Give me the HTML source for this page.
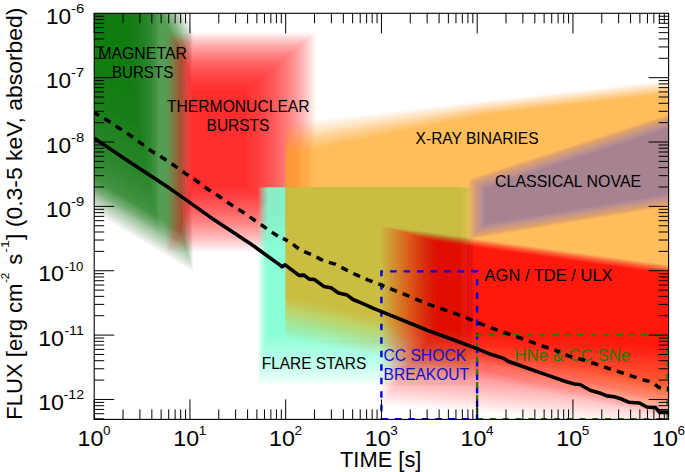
<!DOCTYPE html>
<html><head><meta charset="utf-8"><style>html,body{margin:0;padding:0;background:#fff;overflow:hidden}svg{display:block}</style></head>
<body><svg width="685" height="472" viewBox="0 0 685 472" font-family="Liberation Sans, sans-serif">
<defs><filter id="bl" x="-10%" y="-10%" width="120%" height="120%"><feGaussianBlur stdDeviation="0.6"/></filter><clipPath id="c"><rect x="94.2" y="13.3" width="574.4" height="406.09999999999997"/></clipPath></defs>
<rect width="685" height="472" fill="#fff"/>
<g clip-path="url(#c)"><g filter="url(#bl)"><g fill="#007800"><polygon points="40.0,-40.0 160.0,-40.0 193.0,30.0 193.0,272.1 40.0,180.0" fill-opacity="0.0194"/><polygon points="40.0,-40.0 159.5,-40.0 192.7,30.6 192.7,271.2 40.0,179.2" fill-opacity="0.0198"/><polygon points="40.0,-40.0 158.9,-40.0 192.5,31.2 192.5,270.2 40.0,178.5" fill-opacity="0.0202"/><polygon points="40.0,-40.0 158.4,-40.0 192.2,31.7 192.2,269.3 40.0,177.7" fill-opacity="0.0206"/><polygon points="40.0,-40.0 157.8,-40.0 191.9,32.3 191.9,268.3 40.0,176.9" fill-opacity="0.0211"/><polygon points="40.0,-40.0 157.3,-40.0 191.7,32.9 191.7,267.4 40.0,176.1" fill-opacity="0.0215"/><polygon points="40.0,-40.0 156.7,-40.0 191.4,33.5 191.4,266.4 40.0,175.2" fill-opacity="0.0220"/><polygon points="40.0,-40.0 156.1,-40.0 191.1,34.2 191.1,265.4 40.0,174.4" fill-opacity="0.0225"/><polygon points="40.0,-40.0 155.5,-40.0 190.8,34.8 190.8,264.4 40.0,173.6" fill-opacity="0.0230"/><polygon points="40.0,-40.0 155.0,-40.0 190.5,35.4 190.5,263.4 40.0,172.7" fill-opacity="0.0236"/><polygon points="40.0,-40.0 154.4,-40.0 190.2,36.1 190.2,262.3 40.0,171.9" fill-opacity="0.0241"/><polygon points="40.0,-40.0 153.8,-40.0 189.9,36.7 189.9,261.3 40.0,171.0" fill-opacity="0.0247"/><polygon points="40.0,-40.0 153.2,-40.0 189.6,37.3 189.6,260.2 40.0,170.2" fill-opacity="0.0254"/><polygon points="40.0,-40.0 152.5,-40.0 189.3,38.0 189.3,259.2 40.0,169.3" fill-opacity="0.0260"/><polygon points="40.0,-40.0 151.9,-40.0 189.0,38.7 189.0,258.1 40.0,168.4" fill-opacity="0.0267"/><polygon points="40.0,-40.0 151.3,-40.0 188.7,39.4 188.7,257.0 40.0,167.5" fill-opacity="0.0275"/><polygon points="40.0,-40.0 150.6,-40.0 188.4,40.0 188.4,255.9 40.0,166.5" fill-opacity="0.0282"/><polygon points="40.0,-40.0 150.0,-40.0 188.1,40.7 188.1,254.7 40.0,165.6" fill-opacity="0.0290"/><polygon points="40.0,-40.0 149.3,-40.0 187.7,41.5 187.7,253.6 40.0,164.7" fill-opacity="0.0299"/><polygon points="40.0,-40.0 148.7,-40.0 187.4,42.2 187.4,252.4 40.0,163.7" fill-opacity="0.0308"/><polygon points="40.0,-40.0 148.0,-40.0 187.1,42.9 187.1,251.3 40.0,162.7" fill-opacity="0.0318"/><polygon points="40.0,-40.0 147.3,-40.0 186.7,43.6 186.7,250.1 40.0,161.7" fill-opacity="0.0329"/><polygon points="40.0,-40.0 146.6,-40.0 186.4,44.4 186.4,248.9 40.0,160.7" fill-opacity="0.0340"/><polygon points="40.0,-40.0 145.9,-40.0 186.1,45.1 186.1,247.6 40.0,159.7" fill-opacity="0.0352"/><polygon points="40.0,-40.0 145.2,-40.0 185.7,45.9 185.7,246.4 40.0,158.7" fill-opacity="0.0365"/><polygon points="40.0,-40.0 144.5,-40.0 185.3,46.7 185.3,245.1 40.0,157.6" fill-opacity="0.0378"/><polygon points="40.0,-40.0 143.7,-40.0 185.0,47.5 185.0,243.9 40.0,156.6" fill-opacity="0.0393"/><polygon points="40.0,-40.0 143.0,-40.0 184.6,48.3 184.6,242.6 40.0,155.5" fill-opacity="0.0409"/><polygon points="40.0,-40.0 142.2,-40.0 184.2,49.1 184.2,241.2 40.0,154.4" fill-opacity="0.0427"/><polygon points="40.0,-40.0 141.5,-40.0 183.9,49.9 183.9,239.9 40.0,153.3" fill-opacity="0.0446"/><polygon points="40.0,-40.0 140.7,-40.0 183.5,50.8 183.5,238.5 40.0,152.2" fill-opacity="0.0467"/><polygon points="40.0,-40.0 139.9,-40.0 183.1,51.6 183.1,237.1 40.0,151.0" fill-opacity="0.0490"/><polygon points="40.0,-40.0 139.1,-40.0 182.7,52.5 182.7,235.7 40.0,149.9" fill-opacity="0.0515"/><polygon points="40.0,-40.0 138.2,-40.0 182.3,53.4 182.3,234.3 40.0,148.7" fill-opacity="0.0543"/><polygon points="40.0,-40.0 137.4,-40.0 181.8,54.3 181.8,232.9 40.0,147.5" fill-opacity="0.0574"/><polygon points="40.0,-40.0 136.5,-40.0 181.4,55.2 181.4,231.4 40.0,146.2" fill-opacity="0.0609"/></g><g fill="#007800"><polygon points="40.0,-40.0 160.0,-40.0 160.0,234.3 40.0,165.7" fill-opacity="0.0242"/><polygon points="40.0,-40.0 159.6,-40.0 159.6,232.5 40.0,164.1" fill-opacity="0.0248"/><polygon points="40.0,-40.0 159.2,-40.0 159.2,230.6 40.0,162.4" fill-opacity="0.0254"/><polygon points="40.0,-40.0 158.8,-40.0 158.8,228.7 40.0,160.8" fill-opacity="0.0261"/><polygon points="40.0,-40.0 158.4,-40.0 158.4,226.7 40.0,159.0" fill-opacity="0.0268"/><polygon points="40.0,-40.0 158.0,-40.0 158.0,224.7 40.0,157.2" fill-opacity="0.0275"/><polygon points="40.0,-40.0 157.6,-40.0 157.6,222.6 40.0,155.4" fill-opacity="0.0283"/><polygon points="40.0,-40.0 157.1,-40.0 157.1,220.4 40.0,153.5" fill-opacity="0.0291"/><polygon points="40.0,-40.0 156.7,-40.0 156.7,218.2 40.0,151.5" fill-opacity="0.0300"/><polygon points="40.0,-40.0 156.2,-40.0 156.2,215.9 40.0,149.4" fill-opacity="0.0309"/><polygon points="40.0,-40.0 155.7,-40.0 155.7,213.5 40.0,147.3" fill-opacity="0.0319"/><polygon points="40.0,-40.0 155.2,-40.0 155.2,211.0 40.0,145.1" fill-opacity="0.0329"/><polygon points="40.0,-40.0 154.7,-40.0 154.7,208.4 40.0,142.9" fill-opacity="0.0340"/><polygon points="40.0,-40.0 154.1,-40.0 154.1,205.7 40.0,140.5" fill-opacity="0.0352"/><polygon points="40.0,-40.0 153.5,-40.0 153.5,202.9 40.0,138.0" fill-opacity="0.0365"/><polygon points="40.0,-40.0 152.9,-40.0 152.9,200.0 40.0,135.5" fill-opacity="0.0379"/><polygon points="40.0,-40.0 152.3,-40.0 152.3,197.0 40.0,132.8" fill-opacity="0.0394"/><polygon points="40.0,-40.0 151.7,-40.0 151.7,193.8 40.0,130.0" fill-opacity="0.0410"/><polygon points="40.0,-40.0 151.0,-40.0 151.0,190.5 40.0,127.0" fill-opacity="0.0428"/><polygon points="40.0,-40.0 150.3,-40.0 150.3,187.0 40.0,124.0" fill-opacity="0.0447"/><polygon points="40.0,-40.0 149.5,-40.0 149.5,183.3 40.0,120.7" fill-opacity="0.0468"/><polygon points="40.0,-40.0 148.7,-40.0 148.7,179.3 40.0,117.2" fill-opacity="0.0491"/><polygon points="40.0,-40.0 147.8,-40.0 147.8,175.2 40.0,113.6" fill-opacity="0.0516"/><polygon points="40.0,-40.0 146.9,-40.0 146.9,170.8 40.0,109.7" fill-opacity="0.0544"/><polygon points="40.0,-40.0 145.9,-40.0 145.9,166.0 40.0,105.5" fill-opacity="0.0575"/><polygon points="40.0,-40.0 144.9,-40.0 144.9,161.0 40.0,101.0" fill-opacity="0.0611"/><polygon points="40.0,-40.0 143.8,-40.0 143.8,155.5 40.0,96.2" fill-opacity="0.0650"/><polygon points="40.0,-40.0 142.5,-40.0 142.5,149.5 40.0,90.9" fill-opacity="0.0695"/><polygon points="40.0,-40.0 141.2,-40.0 141.2,142.9 40.0,85.1" fill-opacity="0.0747"/><polygon points="40.0,-40.0 139.7,-40.0 139.7,135.7 40.0,78.7" fill-opacity="0.0808"/><polygon points="40.0,-40.0 138.0,-40.0 138.0,127.6 40.0,71.6" fill-opacity="0.0879"/><polygon points="40.0,-40.0 136.1,-40.0 136.1,118.4 40.0,63.5" fill-opacity="0.0963"/><polygon points="40.0,-40.0 133.9,-40.0 133.9,107.7 40.0,54.0" fill-opacity="0.1066"/><polygon points="40.0,-40.0 131.3,-40.0 131.3,95.0 40.0,42.9" fill-opacity="0.1193"/><polygon points="40.0,-40.0 128.1,-40.0 128.1,79.5 40.0,29.1" fill-opacity="0.1355"/><polygon points="40.0,-40.0 124.0,-40.0 124.0,59.2 40.0,11.3" fill-opacity="0.1568"/></g><g fill="#ff0000"><polygon points="166.0,32.5 316.0,32.5 316.0,252.0 166.0,252.0" fill-opacity="0.0233"/><polygon points="166.7,33.3 315.1,33.3 315.1,250.9 166.7,250.9" fill-opacity="0.0239"/><polygon points="167.5,34.0 314.2,34.0 314.2,249.8 167.5,249.8" fill-opacity="0.0245"/><polygon points="168.2,34.8 313.2,34.8 313.2,248.6 168.2,248.6" fill-opacity="0.0251"/><polygon points="169.0,35.6 312.2,35.6 312.2,247.4 169.0,247.4" fill-opacity="0.0257"/><polygon points="169.7,36.5 311.2,36.5 311.2,246.2 169.7,246.2" fill-opacity="0.0264"/><polygon points="170.5,37.3 310.2,37.3 310.2,245.0 170.5,245.0" fill-opacity="0.0271"/><polygon points="171.2,38.2 309.1,38.2 309.1,243.7 171.2,243.7" fill-opacity="0.0279"/><polygon points="172.0,39.1 308.0,39.1 308.0,242.4 172.0,242.4" fill-opacity="0.0287"/><polygon points="172.7,40.1 306.9,40.1 306.9,241.1 172.7,241.1" fill-opacity="0.0295"/><polygon points="173.5,41.0 305.7,41.0 305.7,239.8 173.5,239.8" fill-opacity="0.0304"/><polygon points="174.2,42.0 304.5,42.0 304.5,238.4 174.2,238.4" fill-opacity="0.0314"/><polygon points="175.0,43.0 303.3,43.0 303.3,237.0 175.0,237.0" fill-opacity="0.0324"/><polygon points="175.7,44.1 302.0,44.1 302.0,235.5 175.7,235.5" fill-opacity="0.0335"/><polygon points="176.5,45.2 300.6,45.2 300.6,234.0 176.5,234.0" fill-opacity="0.0347"/><polygon points="177.2,46.3 299.2,46.3 299.2,232.5 177.2,232.5" fill-opacity="0.0359"/><polygon points="178.0,47.5 297.8,47.5 297.8,230.9 178.0,230.9" fill-opacity="0.0372"/><polygon points="178.7,48.8 296.3,48.8 296.3,229.3 178.7,229.3" fill-opacity="0.0387"/><polygon points="179.5,50.1 294.8,50.1 294.8,227.6 179.5,227.6" fill-opacity="0.0402"/><polygon points="180.2,51.4 293.1,51.4 293.1,225.9 180.2,225.9" fill-opacity="0.0419"/><polygon points="181.0,52.8 291.5,52.8 291.5,224.2 181.0,224.2" fill-opacity="0.0437"/><polygon points="181.7,54.3 289.7,54.3 289.7,222.3 181.7,222.3" fill-opacity="0.0458"/><polygon points="182.5,55.8 287.8,55.8 287.8,220.4 182.5,220.4" fill-opacity="0.0479"/><polygon points="183.2,57.4 285.9,57.4 285.9,218.5 183.2,218.5" fill-opacity="0.0504"/><polygon points="184.0,59.1 283.8,59.1 283.8,216.5 184.0,216.5" fill-opacity="0.0530"/><polygon points="184.7,60.9 281.6,60.9 281.6,214.4 184.7,214.4" fill-opacity="0.0560"/><polygon points="185.5,62.9 279.3,62.9 279.3,212.2 185.5,212.2" fill-opacity="0.0593"/><polygon points="186.2,64.9 276.8,64.9 276.8,209.9 186.2,209.9" fill-opacity="0.0631"/><polygon points="187.0,67.1 274.1,67.1 274.1,207.6 187.0,207.6" fill-opacity="0.0673"/><polygon points="187.7,69.5 271.3,69.5 271.3,205.1 187.7,205.1" fill-opacity="0.0722"/><polygon points="188.5,72.0 268.2,72.0 268.2,202.5 188.5,202.5" fill-opacity="0.0778"/><polygon points="189.2,74.8 264.8,74.8 264.8,199.8 189.2,199.8" fill-opacity="0.0843"/><polygon points="190.0,77.9 261.1,77.9 261.1,197.0 190.0,197.0" fill-opacity="0.0921"/><polygon points="190.7,81.3 257.0,81.3 257.0,194.0 190.7,194.0" fill-opacity="0.1014"/><polygon points="191.5,85.1 252.4,85.1 252.4,190.9 191.5,190.9" fill-opacity="0.1129"/><polygon points="192.2,89.4 247.1,89.4 247.1,187.5 192.2,187.5" fill-opacity="0.1273"/></g><g fill="#7fffd4"><polygon points="258.0,187.5 473.0,187.5 473.0,386.0 258.0,386.0" fill-opacity="0.0250"/><polygon points="258.2,187.5 472.7,187.5 472.7,384.9 258.2,384.9" fill-opacity="0.0256"/><polygon points="258.4,187.5 472.5,187.5 472.5,383.9 258.4,383.9" fill-opacity="0.0263"/><polygon points="258.6,187.5 472.2,187.5 472.2,382.8 258.6,382.8" fill-opacity="0.0270"/><polygon points="258.8,187.5 471.9,187.5 471.9,381.7 258.8,381.7" fill-opacity="0.0278"/><polygon points="259.0,187.5 471.6,187.5 471.6,380.5 259.0,380.5" fill-opacity="0.0286"/><polygon points="259.2,187.5 471.3,187.5 471.3,379.4 259.2,379.4" fill-opacity="0.0294"/><polygon points="259.4,187.5 471.0,187.5 471.0,378.2 259.4,378.2" fill-opacity="0.0303"/><polygon points="259.6,187.5 470.7,187.5 470.7,377.0 259.6,377.0" fill-opacity="0.0312"/><polygon points="259.9,187.5 470.4,187.5 470.4,375.8 259.9,375.8" fill-opacity="0.0323"/><polygon points="260.1,187.5 470.1,187.5 470.1,374.6 260.1,374.6" fill-opacity="0.0333"/><polygon points="260.3,187.5 469.8,187.5 469.8,373.3 260.3,373.3" fill-opacity="0.0345"/><polygon points="260.5,187.5 469.5,187.5 469.5,372.1 260.5,372.1" fill-opacity="0.0357"/><polygon points="260.8,187.5 469.1,187.5 469.1,370.8 260.8,370.8" fill-opacity="0.0370"/><polygon points="261.0,187.5 468.8,187.5 468.8,369.4 261.0,369.4" fill-opacity="0.0385"/><polygon points="261.3,187.5 468.4,187.5 468.4,368.1 261.3,368.1" fill-opacity="0.0400"/><polygon points="261.5,187.5 468.1,187.5 468.1,366.7 261.5,366.7" fill-opacity="0.0417"/><polygon points="261.8,187.5 467.7,187.5 467.7,365.3 261.8,365.3" fill-opacity="0.0435"/><polygon points="262.0,187.5 467.4,187.5 467.4,363.9 262.0,363.9" fill-opacity="0.0455"/><polygon points="262.3,187.5 467.0,187.5 467.0,362.4 262.3,362.4" fill-opacity="0.0476"/><polygon points="262.6,187.5 466.6,187.5 466.6,360.9 262.6,360.9" fill-opacity="0.0500"/><polygon points="262.8,187.5 466.2,187.5 466.2,359.4 262.8,359.4" fill-opacity="0.0526"/><polygon points="263.1,187.5 465.8,187.5 465.8,357.8 263.1,357.8" fill-opacity="0.0556"/><polygon points="263.4,187.5 465.4,187.5 465.4,356.2 263.4,356.2" fill-opacity="0.0588"/><polygon points="263.7,187.5 465.0,187.5 465.0,354.5 263.7,354.5" fill-opacity="0.0625"/><polygon points="264.0,187.5 464.6,187.5 464.6,352.9 264.0,352.9" fill-opacity="0.0667"/><polygon points="264.3,187.5 464.1,187.5 464.1,351.1 264.3,351.1" fill-opacity="0.0714"/><polygon points="264.7,187.5 463.7,187.5 463.7,349.4 264.7,349.4" fill-opacity="0.0769"/><polygon points="265.0,187.5 463.2,187.5 463.2,347.6 265.0,347.6" fill-opacity="0.0833"/><polygon points="265.3,187.5 462.7,187.5 462.7,345.7 265.3,345.7" fill-opacity="0.0909"/><polygon points="265.7,187.5 462.3,187.5 462.3,343.8 265.7,343.8" fill-opacity="0.1000"/><polygon points="266.0,187.5 461.8,187.5 461.8,341.8 266.0,341.8" fill-opacity="0.1111"/><polygon points="266.4,187.5 461.2,187.5 461.2,339.8 266.4,339.8" fill-opacity="0.1250"/><polygon points="266.8,187.5 460.7,187.5 460.7,337.7 266.8,337.7" fill-opacity="0.1429"/><polygon points="267.2,187.5 460.2,187.5 460.2,335.5 267.2,335.5" fill-opacity="0.1667"/><polygon points="267.6,187.5 459.6,187.5 459.6,333.3 267.6,333.3" fill-opacity="0.2000"/></g><g fill="#ffa000"><polygon points="285.5,123.0 485.0,100.8 700.0,77.0 700.0,424.0 285.5,338.0" fill-opacity="0.0186"/><polygon points="285.5,123.8 485.0,101.1 700.0,77.3 700.0,423.3 285.5,337.0" fill-opacity="0.0190"/><polygon points="285.5,124.5 485.0,101.5 700.0,77.6 700.0,422.5 285.5,336.1" fill-opacity="0.0193"/><polygon points="285.5,125.3 485.0,101.8 700.0,78.0 700.0,421.8 285.5,335.1" fill-opacity="0.0197"/><polygon points="285.5,126.1 485.0,102.1 700.0,78.3 700.0,421.0 285.5,334.1" fill-opacity="0.0201"/><polygon points="285.5,126.9 485.0,102.5 700.0,78.6 700.0,420.3 285.5,333.1" fill-opacity="0.0205"/><polygon points="285.5,127.7 485.0,102.8 700.0,79.0 700.0,419.5 285.5,332.1" fill-opacity="0.0210"/><polygon points="285.5,128.5 485.0,103.2 700.0,79.3 700.0,418.7 285.5,331.0" fill-opacity="0.0214"/><polygon points="285.5,129.3 485.0,103.5 700.0,79.7 700.0,417.9 285.5,330.0" fill-opacity="0.0219"/><polygon points="285.5,130.1 485.0,103.9 700.0,80.0 700.0,417.1 285.5,329.0" fill-opacity="0.0224"/><polygon points="285.5,130.9 485.0,104.2 700.0,80.4 700.0,416.3 285.5,327.9" fill-opacity="0.0229"/><polygon points="285.5,131.8 485.0,104.6 700.0,80.7 700.0,415.5 285.5,326.9" fill-opacity="0.0234"/><polygon points="285.5,132.6 485.0,104.9 700.0,81.1 700.0,414.7 285.5,325.8" fill-opacity="0.0240"/><polygon points="285.5,133.5 485.0,105.3 700.0,81.4 700.0,413.9 285.5,324.7" fill-opacity="0.0246"/><polygon points="285.5,134.3 485.0,105.7 700.0,81.8 700.0,413.0 285.5,323.6" fill-opacity="0.0252"/><polygon points="285.5,135.2 485.0,106.0 700.0,82.2 700.0,412.2 285.5,322.5" fill-opacity="0.0258"/><polygon points="285.5,136.1 485.0,106.4 700.0,82.5 700.0,411.3 285.5,321.4" fill-opacity="0.0265"/><polygon points="285.5,137.0 485.0,106.8 700.0,82.9 700.0,410.5 285.5,320.2" fill-opacity="0.0272"/><polygon points="285.5,137.9 485.0,107.2 700.0,83.3 700.0,409.6 285.5,319.1" fill-opacity="0.0280"/><polygon points="285.5,138.8 485.0,107.6 700.0,83.7 700.0,408.7 285.5,317.9" fill-opacity="0.0288"/><polygon points="285.5,139.7 485.0,108.0 700.0,84.1 700.0,407.8 285.5,316.8" fill-opacity="0.0296"/><polygon points="285.5,140.6 485.0,108.4 700.0,84.5 700.0,406.9 285.5,315.6" fill-opacity="0.0306"/><polygon points="285.5,141.6 485.0,108.8 700.0,84.9 700.0,406.0 285.5,314.4" fill-opacity="0.0315"/><polygon points="285.5,142.5 485.0,109.2 700.0,85.3 700.0,405.1 285.5,313.2" fill-opacity="0.0325"/><polygon points="285.5,143.5 485.0,109.6 700.0,85.7 700.0,404.1 285.5,311.9" fill-opacity="0.0336"/><polygon points="285.5,144.4 485.0,110.0 700.0,86.1 700.0,403.2 285.5,310.7" fill-opacity="0.0348"/><polygon points="285.5,145.4 485.0,110.5 700.0,86.5 700.0,402.2 285.5,309.4" fill-opacity="0.0361"/><polygon points="285.5,146.4 485.0,110.9 700.0,86.9 700.0,401.3 285.5,308.2" fill-opacity="0.0374"/><polygon points="285.5,147.4 485.0,111.3 700.0,87.4 700.0,400.3 285.5,306.9" fill-opacity="0.0389"/><polygon points="285.5,148.5 485.0,111.8 700.0,87.8 700.0,399.3 285.5,305.6" fill-opacity="0.0404"/><polygon points="285.5,149.5 485.0,112.2 700.0,88.2 700.0,398.3 285.5,304.3" fill-opacity="0.0421"/><polygon points="285.5,150.5 485.0,112.7 700.0,88.7 700.0,397.3 285.5,302.9" fill-opacity="0.0440"/><polygon points="285.5,151.6 485.0,113.1 700.0,89.1 700.0,396.3 285.5,301.6" fill-opacity="0.0460"/><polygon points="285.5,152.7 485.0,113.6 700.0,89.6 700.0,395.2 285.5,300.2" fill-opacity="0.0482"/><polygon points="285.5,153.8 485.0,114.0 700.0,90.1 700.0,394.2 285.5,298.8" fill-opacity="0.0507"/><polygon points="285.5,154.9 485.0,114.5 700.0,90.5 700.0,393.1 285.5,297.4" fill-opacity="0.0534"/></g><g style="mix-blend-mode:multiply"><g fill="rgb(236,254,248)"><polygon points="285.5,187.5 473.0,187.5 473.0,376.8 285.5,338.0" fill-opacity="0.0278"/><polygon points="285.5,187.5 472.8,187.5 472.8,375.8 285.5,337.0" fill-opacity="0.0286"/><polygon points="285.5,187.5 472.5,187.5 472.5,374.7 285.5,336.0" fill-opacity="0.0294"/><polygon points="285.5,187.5 472.2,187.5 472.2,373.7 285.5,335.0" fill-opacity="0.0303"/><polygon points="285.5,187.5 472.0,187.5 472.0,372.6 285.5,334.0" fill-opacity="0.0313"/><polygon points="285.5,187.5 471.7,187.5 471.7,371.5 285.5,333.0" fill-opacity="0.0323"/><polygon points="285.5,187.5 471.4,187.5 471.4,370.4 285.5,331.9" fill-opacity="0.0333"/><polygon points="285.5,187.5 471.2,187.5 471.2,369.3 285.5,330.9" fill-opacity="0.0345"/><polygon points="285.5,187.5 470.9,187.5 470.9,368.2 285.5,329.8" fill-opacity="0.0357"/><polygon points="285.5,187.5 470.6,187.5 470.6,367.1 285.5,328.8" fill-opacity="0.0370"/><polygon points="285.5,187.5 470.3,187.5 470.3,366.0 285.5,327.7" fill-opacity="0.0385"/><polygon points="285.5,187.5 470.0,187.5 470.0,364.8 285.5,326.6" fill-opacity="0.0400"/><polygon points="285.5,187.5 469.7,187.5 469.7,363.6 285.5,325.5" fill-opacity="0.0417"/><polygon points="285.5,187.5 469.4,187.5 469.4,362.5 285.5,324.4" fill-opacity="0.0435"/><polygon points="285.5,187.5 469.1,187.5 469.1,361.3 285.5,323.3" fill-opacity="0.0455"/><polygon points="285.5,187.5 468.7,187.5 468.7,360.1 285.5,322.2" fill-opacity="0.0476"/><polygon points="285.5,187.5 468.4,187.5 468.4,358.9 285.5,321.0" fill-opacity="0.0500"/><polygon points="285.5,187.5 468.0,187.5 468.0,357.6 285.5,319.9" fill-opacity="0.0526"/><polygon points="285.5,187.5 467.7,187.5 467.7,356.4 285.5,318.7" fill-opacity="0.0556"/><polygon points="285.5,187.5 467.3,187.5 467.3,355.1 285.5,317.5" fill-opacity="0.0588"/><polygon points="285.5,187.5 466.9,187.5 466.9,353.9 285.5,316.3" fill-opacity="0.0625"/><polygon points="285.5,187.5 466.6,187.5 466.6,352.6 285.5,315.1" fill-opacity="0.0667"/><polygon points="285.5,187.5 466.2,187.5 466.2,351.3 285.5,313.9" fill-opacity="0.0714"/><polygon points="285.5,187.5 465.8,187.5 465.8,350.0 285.5,312.6" fill-opacity="0.0769"/><polygon points="285.5,187.5 465.3,187.5 465.3,348.6 285.5,311.4" fill-opacity="0.0833"/><polygon points="285.5,187.5 464.9,187.5 464.9,347.3 285.5,310.1" fill-opacity="0.0909"/><polygon points="285.5,187.5 464.5,187.5 464.5,345.9 285.5,308.8" fill-opacity="0.1000"/><polygon points="285.5,187.5 464.0,187.5 464.0,344.5 285.5,307.5" fill-opacity="0.1111"/><polygon points="285.5,187.5 463.5,187.5 463.5,343.1 285.5,306.2" fill-opacity="0.1250"/><polygon points="285.5,187.5 463.0,187.5 463.0,341.7 285.5,304.9" fill-opacity="0.1429"/><polygon points="285.5,187.5 462.5,187.5 462.5,340.2 285.5,303.6" fill-opacity="0.1667"/><polygon points="285.5,187.5 462.0,187.5 462.0,338.7 285.5,302.2" fill-opacity="0.2000"/><polygon points="285.5,187.5 461.4,187.5 461.4,337.2 285.5,300.8" fill-opacity="0.2500"/><polygon points="285.5,187.5 460.9,187.5 460.9,335.7 285.5,299.4" fill-opacity="0.3333"/><polygon points="285.5,187.5 460.3,187.5 460.3,334.2 285.5,298.0" fill-opacity="0.5000"/><polygon points="285.5,187.5 459.7,187.5 459.7,332.6 285.5,296.6" fill-opacity="1.0000"/></g></g><g fill="#0000d6"><polygon points="469.0,178.8 700.0,103.7 700.0,201.6 469.0,239.5" fill-opacity="0.0100"/><polygon points="469.3,179.0 700.0,104.0 700.0,201.3 469.3,239.2" fill-opacity="0.0101"/><polygon points="469.6,179.2 700.0,104.3 700.0,201.0 469.6,238.9" fill-opacity="0.0102"/><polygon points="469.9,179.4 700.0,104.6 700.0,200.8 469.9,238.6" fill-opacity="0.0103"/><polygon points="470.3,179.6 700.0,104.9 700.0,200.5 470.3,238.3" fill-opacity="0.0104"/><polygon points="470.6,179.7 700.0,105.2 700.0,200.2 470.6,237.9" fill-opacity="0.0105"/><polygon points="470.9,179.9 700.0,105.5 700.0,200.0 470.9,237.6" fill-opacity="0.0106"/><polygon points="471.3,180.1 700.0,105.8 700.0,199.7 471.3,237.3" fill-opacity="0.0108"/><polygon points="471.6,180.4 700.0,106.1 700.0,199.4 471.6,236.9" fill-opacity="0.0109"/><polygon points="472.0,180.6 700.0,106.5 700.0,199.1 472.0,236.6" fill-opacity="0.0110"/><polygon points="472.3,180.8 700.0,106.8 700.0,198.8 472.3,236.2" fill-opacity="0.0111"/><polygon points="472.7,181.0 700.0,107.1 700.0,198.5 472.7,235.9" fill-opacity="0.0112"/><polygon points="473.1,181.2 700.0,107.5 700.0,198.2 473.1,235.5" fill-opacity="0.0114"/><polygon points="473.4,181.4 700.0,107.8 700.0,197.9 473.4,235.1" fill-opacity="0.0115"/><polygon points="473.8,181.7 700.0,108.2 700.0,197.6 473.8,234.7" fill-opacity="0.0116"/><polygon points="474.2,181.9 700.0,108.5 700.0,197.3 474.2,234.4" fill-opacity="0.0118"/><polygon points="474.6,182.1 700.0,108.9 700.0,196.9 474.6,234.0" fill-opacity="0.0119"/><polygon points="475.0,182.4 700.0,109.3 700.0,196.6 475.0,233.6" fill-opacity="0.0120"/><polygon points="475.4,182.6 700.0,109.7 700.0,196.3 475.4,233.1" fill-opacity="0.0122"/><polygon points="475.9,182.9 700.0,110.0 700.0,195.9 475.9,232.7" fill-opacity="0.0123"/><polygon points="476.3,183.1 700.0,110.4 700.0,195.5 476.3,232.3" fill-opacity="0.0125"/><polygon points="476.7,183.4 700.0,110.9 700.0,195.2 476.7,231.8" fill-opacity="0.0127"/><polygon points="477.2,183.7 700.0,111.3 700.0,194.8 477.2,231.4" fill-opacity="0.0128"/><polygon points="477.7,184.0 700.0,111.7 700.0,194.4 477.7,230.9" fill-opacity="0.0130"/><polygon points="478.1,184.2 700.0,112.1 700.0,194.0 478.1,230.5" fill-opacity="0.0132"/><polygon points="478.6,184.5 700.0,112.6 700.0,193.6 478.6,230.0" fill-opacity="0.0133"/><polygon points="479.1,184.8 700.0,113.1 700.0,193.2 479.1,229.5" fill-opacity="0.0135"/><polygon points="479.7,185.1 700.0,113.5 700.0,192.8 479.7,229.0" fill-opacity="0.0137"/><polygon points="480.2,185.5 700.0,114.0 700.0,192.4 480.2,228.5" fill-opacity="0.0139"/><polygon points="480.7,185.8 700.0,114.5 700.0,191.9 480.7,227.9" fill-opacity="0.0141"/><polygon points="481.3,186.1 700.0,115.0 700.0,191.4 481.3,227.4" fill-opacity="0.0143"/><polygon points="481.9,186.5 700.0,115.6 700.0,191.0 481.9,226.8" fill-opacity="0.0145"/><polygon points="482.4,186.8 700.0,116.1 700.0,190.5 482.4,226.2" fill-opacity="0.0147"/><polygon points="483.1,187.2 700.0,116.7 700.0,190.0 483.1,225.6" fill-opacity="0.0149"/><polygon points="483.7,187.5 700.0,117.2 700.0,189.5 483.7,225.0" fill-opacity="0.0152"/><polygon points="484.3,187.9 700.0,117.8 700.0,188.9 484.3,224.4" fill-opacity="0.0154"/></g><g fill="#ff0000"><polygon points="381.0,226.0 700.0,269.1 700.0,428.0 381.0,405.0" fill-opacity="0.0250"/><polygon points="382.4,226.4 700.0,269.3 700.0,426.0 382.4,403.1" fill-opacity="0.0256"/><polygon points="383.8,226.8 700.0,269.6 700.0,424.0 383.8,401.3" fill-opacity="0.0263"/><polygon points="385.1,227.2 700.0,269.8 700.0,422.0 385.1,399.4" fill-opacity="0.0270"/><polygon points="386.6,227.6 700.0,270.1 700.0,419.9 386.6,397.5" fill-opacity="0.0278"/><polygon points="388.0,228.0 700.0,270.3 700.0,417.9 388.0,395.6" fill-opacity="0.0286"/><polygon points="389.4,228.4 700.0,270.6 700.0,415.8 389.4,393.7" fill-opacity="0.0294"/><polygon points="390.8,228.8 700.0,270.8 700.0,413.7 390.8,391.7" fill-opacity="0.0303"/><polygon points="392.3,229.2 700.0,271.1 700.0,411.6 392.3,389.8" fill-opacity="0.0312"/><polygon points="393.7,229.6 700.0,271.3 700.0,409.5 393.7,387.8" fill-opacity="0.0323"/><polygon points="395.2,230.0 700.0,271.6 700.0,407.3 395.2,385.8" fill-opacity="0.0333"/><polygon points="396.7,230.4 700.0,271.8 700.0,405.2 396.7,383.8" fill-opacity="0.0345"/><polygon points="398.2,230.8 700.0,272.1 700.0,403.0 398.2,381.8" fill-opacity="0.0357"/><polygon points="399.7,231.2 700.0,272.3 700.0,400.8 399.7,379.8" fill-opacity="0.0370"/><polygon points="401.2,231.7 700.0,272.6 700.0,398.6 401.2,377.7" fill-opacity="0.0385"/><polygon points="402.7,232.1 700.0,272.9 700.0,396.4 402.7,375.7" fill-opacity="0.0400"/><polygon points="404.3,232.5 700.0,273.1 700.0,394.1 404.3,373.6" fill-opacity="0.0417"/><polygon points="405.8,233.0 700.0,273.4 700.0,391.9 405.8,371.5" fill-opacity="0.0435"/><polygon points="407.4,233.4 700.0,273.7 700.0,389.6 407.4,369.4" fill-opacity="0.0455"/><polygon points="408.9,233.8 700.0,274.0 700.0,387.3 408.9,367.2" fill-opacity="0.0476"/><polygon points="410.5,234.3 700.0,274.2 700.0,385.0 410.5,365.1" fill-opacity="0.0500"/><polygon points="412.1,234.7 700.0,274.5 700.0,382.6 412.1,362.9" fill-opacity="0.0526"/><polygon points="413.8,235.2 700.0,274.8 700.0,380.3 413.8,360.7" fill-opacity="0.0556"/><polygon points="415.4,235.7 700.0,275.1 700.0,377.9 415.4,358.5" fill-opacity="0.0588"/><polygon points="417.0,236.1 700.0,275.4 700.0,375.5 417.0,356.3" fill-opacity="0.0625"/><polygon points="418.7,236.6 700.0,275.6 700.0,373.1 418.7,354.1" fill-opacity="0.0667"/><polygon points="420.4,237.1 700.0,275.9 700.0,370.7 420.4,351.8" fill-opacity="0.0714"/><polygon points="422.1,237.5 700.0,276.2 700.0,368.2 422.1,349.5" fill-opacity="0.0769"/><polygon points="423.8,238.0 700.0,276.5 700.0,365.7 423.8,347.2" fill-opacity="0.0833"/><polygon points="425.5,238.5 700.0,276.8 700.0,363.2 425.5,344.9" fill-opacity="0.0909"/><polygon points="427.2,239.0 700.0,277.1 700.0,360.7 427.2,342.5" fill-opacity="0.1000"/><polygon points="429.0,239.5 700.0,277.4 700.0,358.1 429.0,340.2" fill-opacity="0.1111"/><polygon points="430.8,240.0 700.0,277.7 700.0,355.6 430.8,337.8" fill-opacity="0.1250"/><polygon points="432.5,240.5 700.0,278.1 700.0,353.0 432.5,335.4" fill-opacity="0.1429"/><polygon points="434.3,241.0 700.0,278.4 700.0,350.3 434.3,332.9" fill-opacity="0.1667"/><polygon points="436.2,241.5 700.0,278.7 700.0,347.7 436.2,330.5" fill-opacity="0.2000"/></g><g style="mix-blend-mode:multiply"><g fill="rgb(232,245,245)"><polygon points="410.0,228.0 474.0,237.0 474.0,372.0 410.0,372.0" fill-opacity="0.0625"/><polygon points="411.2,228.5 473.9,237.3 473.9,370.0 411.2,370.0" fill-opacity="0.0667"/><polygon points="412.5,229.0 473.7,237.6 473.7,368.0 412.5,368.0" fill-opacity="0.0714"/><polygon points="413.8,229.5 473.5,237.9 473.5,365.9 413.8,365.9" fill-opacity="0.0769"/><polygon points="415.2,230.0 473.4,238.2 473.4,363.7 415.2,363.7" fill-opacity="0.0833"/><polygon points="416.6,230.5 473.2,238.5 473.2,361.5 416.6,361.5" fill-opacity="0.0909"/><polygon points="418.0,231.1 473.0,238.8 473.0,359.2 418.0,359.2" fill-opacity="0.1000"/><polygon points="419.4,231.6 472.9,239.1 472.9,356.9 419.4,356.9" fill-opacity="0.1111"/><polygon points="421.0,232.2 472.7,239.5 472.7,354.5 421.0,354.5" fill-opacity="0.1250"/><polygon points="422.5,232.8 472.5,239.8 472.5,352.0 422.5,352.0" fill-opacity="0.1429"/><polygon points="424.1,233.4 472.3,240.2 472.3,349.4 424.1,349.4" fill-opacity="0.1667"/><polygon points="425.8,234.0 472.1,240.6 472.1,346.8 425.8,346.8" fill-opacity="0.2000"/><polygon points="427.5,234.7 471.9,240.9 471.9,344.0 427.5,344.0" fill-opacity="0.2500"/><polygon points="429.3,235.4 471.7,241.3 471.7,341.2 429.3,341.2" fill-opacity="0.3333"/><polygon points="431.1,236.1 471.5,241.8 471.5,338.2 431.1,338.2" fill-opacity="0.5000"/><polygon points="433.0,236.8 471.2,242.2 471.2,335.2 433.0,335.2" fill-opacity="1.0000"/></g></g></g><text x="98.2" y="58.9" font-size="17" fill="#000" textLength="88.8" lengthAdjust="spacingAndGlyphs">MAGNETAR</text><text x="112.0" y="77.9" font-size="17" fill="#000" textLength="61.2" lengthAdjust="spacingAndGlyphs">BURSTS</text><text x="167.0" y="112.1" font-size="17" fill="#000" textLength="142.6" lengthAdjust="spacingAndGlyphs">THERMONUCLEAR</text><text x="206.6" y="131.1" font-size="17" fill="#000" textLength="62.8" lengthAdjust="spacingAndGlyphs">BURSTS</text><text x="415.6" y="144.0" font-size="17" fill="#000" textLength="123.0" lengthAdjust="spacingAndGlyphs">X-RAY BINARIES</text><text x="495.0" y="187.2" font-size="17" fill="#000" textLength="146.2" lengthAdjust="spacingAndGlyphs">CLASSICAL NOVAE</text><text x="484.6" y="281.0" font-size="17" fill="#000" textLength="128.0" lengthAdjust="spacingAndGlyphs">AGN / TDE / ULX</text><text x="261.8" y="369.1" font-size="17" fill="#000" textLength="104.4" lengthAdjust="spacingAndGlyphs">FLARE STARS</text><text x="383.4" y="360.8" font-size="17" fill="#1010d0" textLength="82.8" lengthAdjust="spacingAndGlyphs">CC SHOCK</text><text x="383.6" y="379.7" font-size="17" fill="#1010d0" textLength="85.4" lengthAdjust="spacingAndGlyphs">BREAKOUT</text><text x="514.4" y="360.9" font-size="17" fill="#2a7a00" textLength="115.8" lengthAdjust="spacingAndGlyphs">HNe &amp; CC SNe</text>
<path d="M381.4,419.2H477.1V271.4H381.4Z" fill="none" stroke="#0000e6" stroke-width="2.4" stroke-dasharray="6.5 7"/>
<path d="M477.1,419.2H667.6V335.1H477.1Z" fill="none" stroke="#2a7a00" stroke-width="2.4" stroke-dasharray="5.9 6.9"/>
<polyline points="94.2,138.2 130.0,162.2 170.0,188.6 180.0,195.6 210.0,216.9 250.0,243.4 280.4,265.4 282.0,266.8 285.1,264.9 299.0,275.4 304.1,275.1 309.2,279.1 314.3,279.5 323.8,286.4 331.1,287.8 338.4,293.0 347.2,295.1 353.0,299.5 361.8,303.2 373.4,308.3 381.0,311.4 426.7,330.0 460.0,342.3 477.5,348.9 489.0,353.7 503.8,358.4 508.0,361.3 527.0,368.0 545.9,374.6 564.9,381.2 574.4,384.0 580.0,384.5 590.8,390.5 599.8,393.0 607.0,395.9 614.2,396.8 621.4,399.0 628.6,402.2 639.5,403.0 646.7,407.0 655.7,407.6 659.3,412.0 670.0,412.0" fill="none" stroke="#000" stroke-width="3.6" stroke-linejoin="round"/>
<polyline points="94.2,112.5 107.5,120.5 118.8,128.0 129.9,135.1 152.2,151.6 163.3,158.2 174.5,165.7 185.3,173.4 196.7,181.0 207.5,189.0 219.0,196.3 229.8,203.9 241.9,211.5 281.6,238.8 283.0,238.4" fill="none" stroke="#000" stroke-width="3.5" stroke-dasharray="7.3 6.2" stroke-dashoffset="1.70"/><polyline points="283.0,238.4 289.3,241.7 300.8,250.3 311.7,254.6 323.7,260.8 335.0,264.1 344.2,268.9 355.9,274.7 367.6,279.8 379.3,284.2" fill="none" stroke="#000" stroke-width="3.5" stroke-dasharray="7.3 6.2" stroke-dashoffset="1.90"/><polyline points="379.3,284.2 429.0,304.4 465.8,317.5 477.5,322.6" fill="none" stroke="#000" stroke-width="3.5" stroke-dasharray="7.3 6.2" stroke-dashoffset="1.79"/><polyline points="477.5,322.6 490.7,327.7 503.0,332.1 516.2,336.5 529.3,341.2 542.5,346.0 555.6,350.4" fill="none" stroke="#000" stroke-width="3.5" stroke-dasharray="7.3 6.2" stroke-dashoffset="12.79"/><polyline points="555.6,350.4 569.2,356.2 582.8,359.8 595.7,364.0 608.2,368.3 620.7,372.3 632.6,376.3 644.8,380.3 652.0,382.0 659.0,387.5 668.6,389.0" fill="none" stroke="#000" stroke-width="3.5" stroke-dasharray="7.3 6.2" stroke-dashoffset="2.78"/>
</g>
<path d="M94.20,419.4v-20M94.20,13.3v20M123.02,419.4v-10M123.02,13.3v10M139.88,419.4v-10M139.88,13.3v10M151.85,419.4v-10M151.85,13.3v10M161.13,419.4v-10M161.13,13.3v10M168.71,419.4v-10M168.71,13.3v10M175.12,419.4v-10M175.12,13.3v10M180.67,419.4v-10M180.67,13.3v10M185.57,419.4v-10M185.57,13.3v10M189.95,419.4v-20M189.95,13.3v20M218.77,419.4v-10M218.77,13.3v10M235.63,419.4v-10M235.63,13.3v10M247.60,419.4v-10M247.60,13.3v10M256.88,419.4v-10M256.88,13.3v10M264.46,419.4v-10M264.46,13.3v10M270.87,419.4v-10M270.87,13.3v10M276.42,419.4v-10M276.42,13.3v10M281.32,419.4v-10M281.32,13.3v10M285.70,419.4v-20M285.70,13.3v20M314.52,419.4v-10M314.52,13.3v10M331.38,419.4v-10M331.38,13.3v10M343.35,419.4v-10M343.35,13.3v10M352.63,419.4v-10M352.63,13.3v10M360.21,419.4v-10M360.21,13.3v10M366.62,419.4v-10M366.62,13.3v10M372.17,419.4v-10M372.17,13.3v10M377.07,419.4v-10M377.07,13.3v10M381.45,419.4v-20M381.45,13.3v20M410.27,419.4v-10M410.27,13.3v10M427.13,419.4v-10M427.13,13.3v10M439.10,419.4v-10M439.10,13.3v10M448.38,419.4v-10M448.38,13.3v10M455.96,419.4v-10M455.96,13.3v10M462.37,419.4v-10M462.37,13.3v10M467.92,419.4v-10M467.92,13.3v10M472.82,419.4v-10M472.82,13.3v10M477.20,419.4v-20M477.20,13.3v20M506.02,419.4v-10M506.02,13.3v10M522.88,419.4v-10M522.88,13.3v10M534.85,419.4v-10M534.85,13.3v10M544.13,419.4v-10M544.13,13.3v10M551.71,419.4v-10M551.71,13.3v10M558.12,419.4v-10M558.12,13.3v10M563.67,419.4v-10M563.67,13.3v10M568.57,419.4v-10M568.57,13.3v10M572.95,419.4v-20M572.95,13.3v20M601.77,419.4v-10M601.77,13.3v10M618.63,419.4v-10M618.63,13.3v10M630.60,419.4v-10M630.60,13.3v10M639.88,419.4v-10M639.88,13.3v10M647.46,419.4v-10M647.46,13.3v10M653.87,419.4v-10M653.87,13.3v10M659.42,419.4v-10M659.42,13.3v10M664.32,419.4v-10M664.32,13.3v10M94.2,418.83h10M668.6,418.83h-10M94.2,413.74h10M668.6,413.74h-10M94.2,409.43h10M668.6,409.43h-10M94.2,405.70h10M668.6,405.70h-10M94.2,402.40h10M668.6,402.40h-10M94.2,399.46h20M668.6,399.46h-20M94.2,380.09h10M668.6,380.09h-10M94.2,368.75h10M668.6,368.75h-10M94.2,360.71h10M668.6,360.71h-10M94.2,354.47h10M668.6,354.47h-10M94.2,349.38h10M668.6,349.38h-10M94.2,345.07h10M668.6,345.07h-10M94.2,341.34h10M668.6,341.34h-10M94.2,338.04h10M668.6,338.04h-10M94.2,335.10h20M668.6,335.10h-20M94.2,315.73h10M668.6,315.73h-10M94.2,304.39h10M668.6,304.39h-10M94.2,296.35h10M668.6,296.35h-10M94.2,290.11h10M668.6,290.11h-10M94.2,285.02h10M668.6,285.02h-10M94.2,280.71h10M668.6,280.71h-10M94.2,276.98h10M668.6,276.98h-10M94.2,273.68h10M668.6,273.68h-10M94.2,270.74h20M668.6,270.74h-20M94.2,251.37h10M668.6,251.37h-10M94.2,240.03h10M668.6,240.03h-10M94.2,231.99h10M668.6,231.99h-10M94.2,225.75h10M668.6,225.75h-10M94.2,220.66h10M668.6,220.66h-10M94.2,216.35h10M668.6,216.35h-10M94.2,212.62h10M668.6,212.62h-10M94.2,209.32h10M668.6,209.32h-10M94.2,206.38h20M668.6,206.38h-20M94.2,187.01h10M668.6,187.01h-10M94.2,175.67h10M668.6,175.67h-10M94.2,167.63h10M668.6,167.63h-10M94.2,161.39h10M668.6,161.39h-10M94.2,156.30h10M668.6,156.30h-10M94.2,151.99h10M668.6,151.99h-10M94.2,148.26h10M668.6,148.26h-10M94.2,144.96h10M668.6,144.96h-10M94.2,142.02h20M668.6,142.02h-20M94.2,122.65h10M668.6,122.65h-10M94.2,111.31h10M668.6,111.31h-10M94.2,103.27h10M668.6,103.27h-10M94.2,97.03h10M668.6,97.03h-10M94.2,91.94h10M668.6,91.94h-10M94.2,87.63h10M668.6,87.63h-10M94.2,83.90h10M668.6,83.90h-10M94.2,80.60h10M668.6,80.60h-10M94.2,77.66h20M668.6,77.66h-20M94.2,58.29h10M668.6,58.29h-10M94.2,46.95h10M668.6,46.95h-10M94.2,38.91h10M668.6,38.91h-10M94.2,32.67h10M668.6,32.67h-10M94.2,27.58h10M668.6,27.58h-10M94.2,23.27h10M668.6,23.27h-10M94.2,19.54h10M668.6,19.54h-10M94.2,16.24h10M668.6,16.24h-10" stroke="#000" stroke-width="1.0" fill="none"/>
<rect x="94.2" y="13.3" width="574.4" height="406.09999999999997" fill="none" stroke="#000" stroke-width="1.1"/>
<text x="77.55" y="446.1" font-size="21.5" textLength="25.8" lengthAdjust="spacingAndGlyphs">10</text><text x="102.90" y="435.4" font-size="13.5">0</text><text x="173.30" y="446.1" font-size="21.5" textLength="25.8" lengthAdjust="spacingAndGlyphs">10</text><text x="198.65" y="435.4" font-size="13.5">1</text><text x="269.05" y="446.1" font-size="21.5" textLength="25.8" lengthAdjust="spacingAndGlyphs">10</text><text x="294.40" y="435.4" font-size="13.5">2</text><text x="364.80" y="446.1" font-size="21.5" textLength="25.8" lengthAdjust="spacingAndGlyphs">10</text><text x="390.15" y="435.4" font-size="13.5">3</text><text x="460.55" y="446.1" font-size="21.5" textLength="25.8" lengthAdjust="spacingAndGlyphs">10</text><text x="485.90" y="435.4" font-size="13.5">4</text><text x="556.30" y="446.1" font-size="21.5" textLength="25.8" lengthAdjust="spacingAndGlyphs">10</text><text x="581.65" y="435.4" font-size="13.5">5</text><text x="652.05" y="446.1" font-size="21.5" textLength="25.8" lengthAdjust="spacingAndGlyphs">10</text><text x="677.40" y="435.4" font-size="13.5">6</text><text x="46.0" y="23.80" font-size="21.5" textLength="25.2" lengthAdjust="spacingAndGlyphs">10</text><text x="71.0" y="13.10" font-size="13.2" textLength="13.2" lengthAdjust="spacingAndGlyphs">-6</text><text x="46.0" y="88.16" font-size="21.5" textLength="25.2" lengthAdjust="spacingAndGlyphs">10</text><text x="71.0" y="77.46" font-size="13.2" textLength="13.2" lengthAdjust="spacingAndGlyphs">-7</text><text x="46.0" y="152.52" font-size="21.5" textLength="25.2" lengthAdjust="spacingAndGlyphs">10</text><text x="71.0" y="141.82" font-size="13.2" textLength="13.2" lengthAdjust="spacingAndGlyphs">-8</text><text x="46.0" y="216.88" font-size="21.5" textLength="25.2" lengthAdjust="spacingAndGlyphs">10</text><text x="71.0" y="206.18" font-size="13.2" textLength="13.2" lengthAdjust="spacingAndGlyphs">-9</text><text x="38.2" y="281.24" font-size="21.5" textLength="25.8" lengthAdjust="spacingAndGlyphs">10</text><text x="64.4" y="270.54" font-size="13.2" textLength="19.0" lengthAdjust="spacingAndGlyphs">-10</text><text x="38.2" y="345.60" font-size="21.5" textLength="25.8" lengthAdjust="spacingAndGlyphs">10</text><text x="64.4" y="334.90" font-size="13.2" textLength="19.4" lengthAdjust="spacingAndGlyphs">-11</text><text x="38.2" y="409.96" font-size="21.5" textLength="25.8" lengthAdjust="spacingAndGlyphs">10</text><text x="63.6" y="399.26" font-size="13.2" textLength="20.6" lengthAdjust="spacingAndGlyphs">-12</text>
<text x="340.0" y="467.05" font-size="21.5" textLength="81.4" lengthAdjust="spacingAndGlyphs">TIME [s]</text>
<g transform="translate(21.5,417.7) rotate(-90)"><text x="-2.0" y="0" font-size="21.5" textLength="136.2" lengthAdjust="spacingAndGlyphs">FLUX [erg cm</text><text x="134.6" y="-12.6" font-size="10.8" textLength="10.4" lengthAdjust="spacingAndGlyphs">-2</text><text x="153.0" y="0" font-size="21.5" textLength="11.0" lengthAdjust="spacingAndGlyphs">s</text><text x="165.0" y="-12.6" font-size="10.8" textLength="12.6" lengthAdjust="spacingAndGlyphs">-1</text><text x="177.8" y="0" font-size="21.5" textLength="232.4" lengthAdjust="spacingAndGlyphs">] (0.3-5 keV, absorbed)</text></g>
</svg></body></html>
